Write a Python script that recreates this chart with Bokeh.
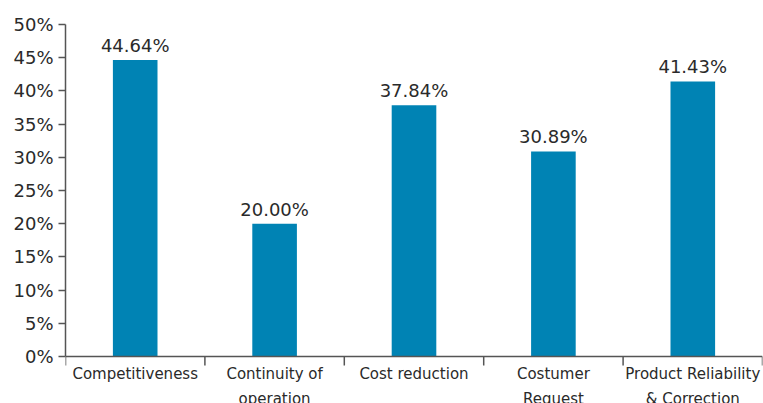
from bokeh.plotting import figure
from bokeh.models import ColumnDataSource, LabelSet, FixedTicker, Range1d, Span
from bokeh.core.properties import value
from bokeh.embed import file_html
from bokeh.resources import INLINE

# Share of responses per motivation
categories = [
    "Competitiveness",
    "Continuity of",
    "Cost reduction",
    "Costumer",
    "Product Reliability",
]
categories_line2 = ["", "operation", "", "Request", "& Correction"]
values = [44.64, 20.00, 37.84, 30.89, 41.43]
value_labels = ["44.64%", "20.00%", "37.84%", "30.89%", "41.43%"]
y_ticks = [0, 5, 10, 15, 20, 25, 30, 35, 40, 45, 50]
y_tick_labels = ["0%", "5%", "10%", "15%", "20%", "25%", "30%", "35%", "40%", "45%", "50%"]

BAR_COLOR = "#0083b4"
TEXT_COLOR = "#2a2a2a"
AXIS_COLOR = "#555555"
FONT = "DejaVu Sans"

W, H = 763, 403
TOP, LEFT, RIGHT = 24, 65, 1
AXIS_PX = 356            # pixel row of the category axis
TICK_PX = 9              # boundary tick length below the axis

n = len(categories)
centers = [i + 0.5 for i in range(n)]
y_max = 50
px_per_unit = (AXIS_PX - TOP) / y_max
y_min = -(H - AXIS_PX) / px_per_unit   # room under the axis for category names

src = ColumnDataSource(dict(
    x=centers, top=values, label=value_labels,
    cat1=categories, cat2=categories_line2, zero=[0] * n,
))
bounds = ColumnDataSource(dict(
    x=list(range(n + 1)),
    y0=[0] * (n + 1),
    y1=[-TICK_PX / px_per_unit] * (n + 1),
))

p = figure(
    width=W, height=H,
    x_range=Range1d(0, n), y_range=Range1d(y_min, y_max),
    output_backend="svg", toolbar_location=None,
    x_axis_location=None,
    min_border_left=LEFT, min_border_right=RIGHT,
    min_border_top=TOP, min_border_bottom=0,
)
p.outline_line_color = None
p.xgrid.visible = False
p.ygrid.visible = False
p.background_fill_color = "white"
p.border_fill_color = "white"

p.vbar(x="x", top="top", width=0.32, bottom=0, source=src,
       fill_color=BAR_COLOR, line_color=None)

# category axis: baseline and boundary ticks
p.add_layout(Span(location=0, dimension="width",
                  line_color=AXIS_COLOR, line_width=1.5))
p.segment(x0="x", y0="y0", x1="x", y1="y1", source=bounds,
          line_color=AXIS_COLOR, line_width=1.5)

# value labels above bars
p.add_layout(LabelSet(
    x="x", y="top", text="label", source=src,
    text_align="center", text_baseline="alphabetic", y_offset=8,
    text_font=value(FONT), text_font_size="18px", text_color=TEXT_COLOR,
))

# category names, two lines under the axis
for col, off in (("cat1", -22), ("cat2", -47)):
    p.add_layout(LabelSet(
        x="x", y="zero", text=col, source=src,
        text_align="center", text_baseline="alphabetic", y_offset=off,
        text_font=value(FONT), text_font_size="15px", text_color=TEXT_COLOR,
    ))

# y axis: percentage ticks, line limited to 0..50
ya = p.yaxis[0]
ya.bounds = (0, y_max)
ya.ticker = FixedTicker(ticks=y_ticks)
ya.major_label_overrides = {t: s for t, s in zip(y_ticks, y_tick_labels)}
ya.major_label_text_font = FONT
ya.major_label_text_font_size = "18px"
ya.major_label_text_color = TEXT_COLOR
ya.major_label_standoff = 5
ya.major_tick_out = 7
ya.major_tick_in = 0
ya.minor_tick_line_color = None
ya.axis_line_color = AXIS_COLOR
ya.major_tick_line_color = AXIS_COLOR
ya.axis_line_width = 1.5
ya.major_tick_line_width = 1.5

open("out.html", "w").write(file_html(p, INLINE))
